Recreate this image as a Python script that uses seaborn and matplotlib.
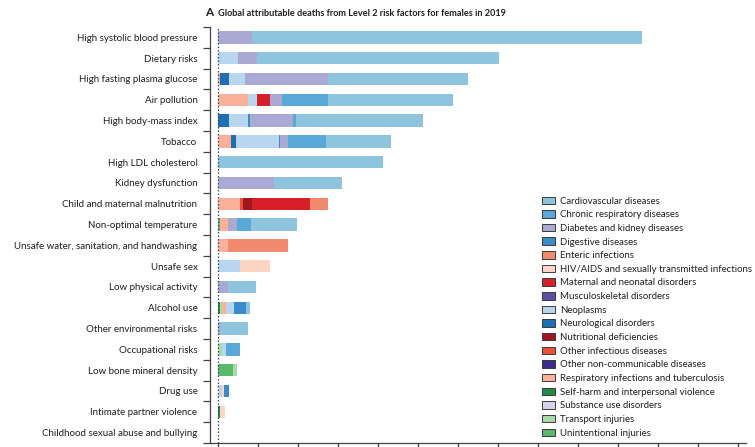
import matplotlib
matplotlib.use("Agg")
import matplotlib.pyplot as plt
from matplotlib.patches import Patch
import numpy as np
import pandas as pd
import seaborn as sns

# Level 2 risk factors (top to bottom)
risks = [
    "High systolic blood pressure", "Dietary risks", "High fasting plasma glucose",
    "Air pollution", "High body-mass index", "Tobacco", "High LDL cholesterol",
    "Kidney dysfunction", "Child and maternal malnutrition", "Non-optimal temperature",
    "Unsafe water, sanitation, and handwashing", "Unsafe sex", "Low physical activity",
    "Alcohol use", "Other environmental risks", "Occupational risks",
    "Low bone mineral density", "Drug use", "Intimate partner violence",
    "Childhood sexual abuse and bullying",
]

# Attributable deaths (millions) by cause, one value per risk factor above
cardiovascular = [4.88, 3.02, 1.74, 1.56, 1.58, 0.81, 2.06, 0.85, 0, 0.58, 0, 0, 0.355, 0.04, 0.345, 0, 0, 0, 0, 0]
chronic_respiratory = [0, 0, 0, 0.58, 0.04, 0.48, 0, 0, 0, 0.175, 0, 0, 0, 0, 0, 0.17, 0, 0, 0, 0]
diabetes_kidney = [0.42, 0.24, 1.04, 0.146, 0.54, 0.095, 0, 0.70, 0, 0.105, 0, 0, 0.12, 0, 0.03, 0, 0, 0, 0, 0]
digestive = [0, 0, 0, 0, 0.03, 0.02, 0, 0, 0, 0, 0, 0, 0, 0.155, 0, 0, 0, 0.055, 0, 0]
enteric = [0, 0, 0, 0, 0, 0, 0, 0, 0.225, 0, 0.75, 0, 0, 0, 0, 0, 0, 0, 0, 0]
hiv_sti = [0, 0, 0, 0, 0, 0, 0, 0, 0, 0, 0, 0.375, 0, 0, 0, 0, 0, 0.03, 0.065, 0]
maternal_neonatal = [0, 0, 0, 0.17, 0, 0, 0, 0, 0.72, 0, 0, 0, 0, 0, 0, 0, 0, 0, 0, 0]
musculoskeletal = [0] * 20
neoplasms = [0, 0.25, 0.20, 0.11, 0.23, 0.53, 0, 0, 0, 0, 0, 0.28, 0, 0.095, 0, 0.05, 0, 0.02, 0, 0]
neurological = [0, 0, 0.11, 0, 0.14, 0.07, 0, 0, 0, 0, 0, 0, 0, 0, 0, 0, 0, 0, 0, 0]
nutritional = [0, 0, 0, 0, 0, 0, 0, 0, 0.12, 0, 0, 0, 0, 0, 0, 0, 0, 0, 0, 0]
other_infectious = [0, 0, 0, 0, 0, 0, 0, 0, 0.03, 0, 0, 0, 0, 0, 0, 0, 0, 0, 0, 0]
other_ncd = [0] * 20
resp_infections_tb = [0, 0, 0.03, 0.375, 0, 0.16, 0, 0, 0.28, 0.11, 0.13, 0, 0, 0.06, 0, 0, 0, 0, 0, 0]
self_harm = [0, 0, 0, 0, 0, 0, 0, 0, 0, 0, 0, 0, 0, 0.03, 0, 0, 0, 0, 0.02, 0.004]
substance_use = [0, 0, 0, 0, 0, 0, 0, 0, 0, 0, 0, 0, 0, 0, 0, 0, 0, 0.03, 0, 0]
transport = [0, 0, 0, 0, 0, 0, 0, 0, 0, 0, 0, 0, 0, 0.015, 0, 0.055, 0.05, 0, 0, 0]
unintentional = [0, 0, 0, 0, 0, 0, 0, 0, 0, 0.02, 0, 0, 0, 0, 0, 0, 0.19, 0, 0, 0]

causes = [
    "Cardiovascular diseases", "Chronic respiratory diseases", "Diabetes and kidney diseases",
    "Digestive diseases", "Enteric infections", "HIV/AIDS and sexually transmitted infections",
    "Maternal and neonatal disorders", "Musculoskeletal disorders", "Neoplasms",
    "Neurological disorders", "Nutritional deficiencies", "Other infectious diseases",
    "Other non-communicable diseases", "Respiratory infections and tuberculosis",
    "Self-harm and interpersonal violence", "Substance use disorders",
    "Transport injuries", "Unintentional injuries",
]
colors = [
    "#8ec4de", "#5aa8d7", "#a9a9d3", "#3a8cc8", "#f28b6e", "#fdd5c4",
    "#d62028", "#5c50a5", "#b8d6ee", "#1f6fb5", "#a01520", "#ee4f3a",
    "#3a2c8e", "#fbb09a", "#238b45", "#d4d4e8", "#a8dba8", "#5cb86a",
]
values = [
    cardiovascular, chronic_respiratory, diabetes_kidney, digestive, enteric, hiv_sti,
    maternal_neonatal, musculoskeletal, neoplasms, neurological, nutritional,
    other_infectious, other_ncd, resp_infections_tb, self_harm, substance_use,
    transport, unintentional,
]

# Left-to-right order of the segments inside each bar
stack_order = [
    "Self-harm and interpersonal violence", "Unintentional injuries", "Transport injuries",
    "Substance use disorders", "Respiratory infections and tuberculosis",
    "Other infectious diseases", "Nutritional deficiencies", "Neurological disorders",
    "Neoplasms", "HIV/AIDS and sexually transmitted infections",
    "Maternal and neonatal disorders", "Enteric infections", "Digestive diseases",
    "Musculoskeletal disorders", "Other non-communicable diseases",
    "Diabetes and kidney diseases", "Chronic respiratory diseases", "Cardiovascular diseases",
]

sns.set_theme(style="white")
plt.rcParams["font.family"] = ["Lato", "DejaVu Sans"]
plt.rcParams["text.color"] = "#1e1e1e"

df = pd.DataFrame({c: v for c, v in zip(causes, values)}, index=risks)
palette = dict(zip(causes, colors))
cum = df[stack_order].cumsum(axis=1)

fig = plt.figure(figsize=(7.55, 4.47), dpi=100)
ax = fig.add_axes([210 / 755, 4 / 447, 536 / 755, 416 / 447])

# Stacked bars: draw running totals from the widest down so each segment stays visible
for cause in reversed(stack_order):
    sns.barplot(x=cum[cause].values, y=risks, orient="h", color=palette[cause],
                width=0.6, linewidth=0, saturation=1, errorbar=None, ax=ax)

ax.axvline(0, color="#2d4b66", lw=0.9, ls=(0, (1.2, 1.6)), zorder=5)

ax.set_xlim(-0.1, 6.6)
ax.set_ylim(len(risks) - 0.5, -0.5)
ax.set_xlabel("")
ax.set_ylabel("")

# Category labels at bar centres, tick marks on the boundaries between bars
ax.set_yticks(np.arange(len(risks)))
ax.set_yticklabels(risks, fontsize=7.0, color="#1e1e1e")
ax.set_yticks(np.arange(len(risks) + 1) - 0.5, minor=True)
ax.tick_params(axis="y", which="major", length=0, pad=9)
ax.tick_params(axis="y", which="minor", left=True, length=5, width=0.9, color="#444444")

ax.set_xticks(np.arange(0, 6.6, 0.5))
ax.set_xticklabels([])
ax.tick_params(axis="x", which="major", bottom=True, length=5, width=0.9, color="#444444")

for side in ("top", "right"):
    ax.spines[side].set_visible(False)
for side in ("left", "bottom"):
    ax.spines[side].set_color("#444444")
    ax.spines[side].set_linewidth(0.9)

handles = [Patch(facecolor=palette[c], edgecolor="#3a3a3a", linewidth=0.7, label=c) for c in causes]
fig.legend(handles=handles, loc="upper left", bbox_to_anchor=(542 / 755, 1 - 196.5 / 447),
           frameon=False, fontsize=6.9, handlelength=1.35, handleheight=0.82,
           handletextpad=0.5, labelspacing=0.48, borderpad=0, borderaxespad=0)

fig.text(205 / 755, 1 - 13 / 447, "A", fontsize=8.5, fontweight="bold", va="center", ha="left")
fig.text(218 / 755, 1 - 13 / 447,
         "Global attributable deaths from Level 2 risk factors for females in 2019",
         fontsize=6.6, fontweight="bold", va="center", ha="left", color="#1e1e1e")

fig.savefig("out.png", dpi=100)
